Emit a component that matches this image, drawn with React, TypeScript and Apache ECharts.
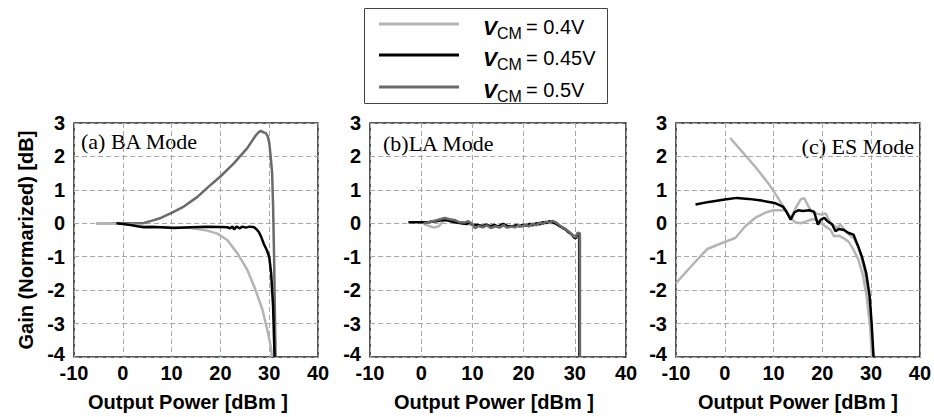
import React, { useEffect, useRef } from "react";
import * as echarts from "echarts";

// ---------- data ----------
const seriesNames = ["VCM = 0.4V", "VCM = 0.45V", "VCM = 0.5V"];
const legendValues = ["= 0.4V", "= 0.45V", "= 0.5V"];
const xTicks = [-10, 0, 10, 20, 30, 40];
const yTicks = [-4, -3, -2, -1, 0, 1, 2, 3];
const panelTitles = ["(a) BA Mode", "(b)LA Mode", "(c) ES Mode"];

// (a) BA mode
const baV04: number[][] = [
  [-5.5, 0], [-3, 0], [0, -0.02], [2, -0.04], [4.3, -0.07], [7, -0.1], [10.5, -0.12], [13.9, -0.14],
  [17.3, -0.22], [19.4, -0.31], [21.4, -0.5], [23.5, -0.9], [25.5, -1.39], [27.2, -1.99], [28.6, -2.58],
  [29.6, -3.18], [30.3, -3.68], [30.6, -4],
];
const baV045: number[][] = [
  [-1.3, 0], [0, -0.02], [1.6, -0.05], [3, -0.09], [4.3, -0.12], [6, -0.11], [7.8, -0.12], [10.5, -0.14],
  [13.9, -0.12], [17.3, -0.1], [20, -0.11], [21.4, -0.12], [22, -0.15], [22.5, -0.1], [22.8, -0.18],
  [23.3, -0.1], [24, -0.15], [24.5, -0.1], [25.2, -0.13], [26, -0.1], [26.9, -0.12], [27.4, -0.18],
  [27.9, -0.27], [28.4, -0.42], [28.9, -0.62], [29.5, -0.8], [30, -1.0], [30.4, -1.5], [30.8, -2.5], [31.1, -4],
];
const baV05: number[][] = [
  [-5.5, 0], [-3, 0], [-1, 0], [1, 0], [3, 0], [4.3, 0.01], [6, 0.08], [7.8, 0.16], [10, 0.31], [12.5, 0.5],
  [15.3, 0.79], [17.3, 1.06], [20, 1.4], [22.8, 1.8], [25.5, 2.25], [27.2, 2.62], [27.8, 2.72], [28.3, 2.77],
  [28.8, 2.72], [29.3, 2.7], [29.7, 2.6], [30, 2.42], [30.3, 2.0], [30.6, 1.5], [30.8, 0.5], [31, -1],
  [31.2, -3], [31.3, -4],
];

// (b) LA mode
const laV04: number[][] = [
  [0.5, -0.02], [1.5, -0.08], [2.6, -0.13], [3.5, -0.08], [4.5, 0.1], [5.5, 0.07], [7, 0.03], [8.5, 0],
  [10, -0.05], [12, -0.08], [15, -0.08], [18, -0.08], [21, -0.03], [24, 0.02], [26, 0], [28, -0.18],
  [29.5, -0.35], [30.3, -0.4], [30.8, -0.3], [30.9, -4],
];
const laV045: number[][] = [
  [-2.5, 0.03], [-1, 0.03], [0.3, 0.03], [1.5, 0.04], [2.9, 0.06], [4, 0.09], [4.9, 0.1], [6, 0.05],
  [6.8, 0.02], [7.8, 0], [8.8, -0.02], [9.5, 0.02], [10, -0.04], [11, -0.05], [12, -0.08], [12.8, -0.04],
  [13.5, -0.09], [14.3, -0.05], [15, -0.1], [16, -0.02], [16.8, -0.08], [17.8, -0.1], [18.5, -0.06],
  [19.2, -0.09], [19.8, -0.05], [20.6, -0.07], [21.2, -0.02], [21.7, -0.06], [22.5, 0], [23.2, -0.03],
  [23.7, 0.03], [24.5, 0.01], [25, 0.06], [25.6, 0.03], [26.2, 0], [27, -0.08], [27.5, -0.12],
  [28.2, -0.18], [28.8, -0.27], [29.4, -0.33], [29.8, -0.42], [30.2, -0.45], [30.5, -0.3], [30.9, -0.35],
  [30.9, -4],
];
const laV05: number[][] = [
  [0.5, 0], [1.5, 0.03], [3, 0.09], [4.6, 0.16], [5.5, 0.12], [6.5, 0.1], [7.5, 0.03], [8.5, 0.02],
  [9.2, 0.06], [10, -0.02], [10.5, -0.15], [11.2, -0.08], [12, -0.12], [12.8, -0.06], [13.6, -0.14],
  [14.5, -0.09], [15.3, -0.13], [16.1, -0.05], [16.8, -0.13], [17.6, -0.1], [18.3, -0.12], [19, -0.07],
  [19.6, -0.1], [20.4, -0.04], [21, -0.09], [21.8, -0.02], [22.5, -0.06], [23.1, 0.02], [23.8, -0.02],
  [24.4, 0.05], [25, 0.02], [25.7, 0.07], [26.4, 0.02], [27, -0.06], [27.7, -0.13], [28.4, -0.2],
  [29, -0.27], [29.6, -0.37], [30.1, -0.42], [30.6, -0.28], [31, -0.3], [31, -4],
];

// (c) ES mode
const esV04Low: number[][] = [
  [-10, -1.79], [-6.6, -1.24], [-3.6, -0.77], [-0.55, -0.59], [2.15, -0.44], [4.2, -0.09], [6.2, 0.16],
  [8.2, 0.31], [9.9, 0.39], [12.3, 0.39], [13.3, 0.2], [14.4, 0.03], [15.6, 0], [16.6, 0.05], [17.7, 0.11],
  [18.7, 0.11], [19.7, 0], [20.7, -0.1], [21.7, -0.2], [22.4, -0.39], [23.4, -0.37], [24.4, -0.45],
  [25.4, -0.55], [26.4, -0.79], [27.4, -1.09], [28.3, -1.55], [29.1, -2.2], [29.8, -3.1], [30.2, -4],
];
const esV04High: number[][] = [
  [1.1, 2.55], [3.5, 2.15], [6.2, 1.7], [8.9, 1.2], [10.9, 0.76], [12.6, 0.36], [13.6, 0.16], [14.5, 0.45],
  [15.6, 0.72], [16.3, 0.75], [17, 0.55], [17.7, 0.36], [18.5, 0.3], [19.7, 0.26], [20.7, 0.29], [21.7, 0],
  [23.1, -0.14], [23.7, -0.04], [25.1, -0.29], [26.4, -0.44], [27.4, -0.69], [28.5, -1.29], [29.5, -2.18],
  [30.1, -3.38], [30.5, -4],
];
const esV045: number[][] = [
  [-6, 0.56], [-3.25, 0.64], [0, 0.71], [2.5, 0.76], [4.85, 0.73], [7.5, 0.68], [10.2, 0.61], [11.9, 0.5],
  [12.6, 0.36], [13.5, 0.11], [14.3, 0.33], [15.1, 0.39], [16, 0.37], [17.3, 0.39], [18.3, 0.35],
  [19.1, -0.04], [19.7, 0.11], [20.4, 0.16], [21, 0.07], [22, -0.03], [22.7, -0.24], [23.4, -0.17],
  [24.4, -0.2], [25.4, -0.29], [26.4, -0.34], [27.2, -0.64], [28.1, -0.99], [29, -1.49], [29.7, -2.18],
  [30.1, -2.98], [30.5, -4],
];

// ---------- styles ----------
const C04 = "#b4b4b4";
const C045 = "#000000";
const C05 = "#6a6a6a";
const colors = [C04, C045, C05];
const SANS = 'Arial, "Liberation Sans", Helvetica, sans-serif';
const SERIF = '"Times New Roman", "Liberation Serif", serif';

const grids = [
  { left: 74, top: 123, width: 244, height: 234 },
  { left: 370, top: 123, width: 256, height: 234 },
  { left: 676, top: 123, width: 247, height: 234 },
];

function makeOption() {
  const xAxis = grids.map((_, i) => ({
    type: "value",
    gridIndex: i,
    min: xTicks[0],
    max: xTicks[xTicks.length - 1],
    interval: 10,
    name: "Output Power [dBm ]",
    nameLocation: "middle",
    nameGap: 35,
    nameTextStyle: {
      fontFamily: SANS,
      fontWeight: "bold",
      fontSize: 20,
      color: "#000",
      padding: i === 0 ? [0, 16, 0, 0] : i === 1 ? [0, 8, 0, 0] : 0,
    },
    axisLine: { show: false },
    axisTick: { show: false },
    axisLabel: { fontFamily: SANS, fontWeight: "bold", fontSize: 20, lineHeight: 14, color: "#000", margin: 9 },
    splitLine: { show: true, lineStyle: { type: [5, 3], color: "#a8a8a8", width: 1 } },
  }));
  const yAxis = grids.map((_, i) => ({
    type: "value",
    gridIndex: i,
    min: yTicks[0],
    max: yTicks[yTicks.length - 1],
    interval: 1,
    name: i === 0 ? "Gain (Normarized) [dB]" : "",
    nameLocation: "middle",
    nameGap: 38,
    nameTextStyle: { fontFamily: SANS, fontWeight: "bold", fontSize: 20, color: "#000" },
    axisLine: { show: false },
    axisTick: { show: false },
    axisLabel: {
      fontFamily: SANS, fontWeight: "bold", fontSize: 20, lineHeight: 14, color: "#000", margin: 9,
      formatter: (v: number) => (v === yTicks[0] ? `{lo|${v}}` : `${v}`),
      rich: {
        lo: { fontFamily: SANS, fontWeight: "bold", fontSize: 20, lineHeight: 14, color: "#000", padding: [0, 0, 7, 0] },
      },
    },
    splitLine: { show: true, lineStyle: { type: [5, 3], color: "#a8a8a8", width: 1 } },
  }));

  const mk = (name: string, data: number[][], color: string, gi: number) => ({
    type: "line",
    name,
    data,
    xAxisIndex: gi,
    yAxisIndex: gi,
    symbol: "none",
    showSymbol: false,
    smooth: false,
    lineStyle: { color, width: 2.5 },
    itemStyle: { color },
    emphasis: { disabled: true },
  });

  const series = [
    mk(seriesNames[2], baV05, C05, 0),
    mk(seriesNames[0], baV04, C04, 0),
    mk(seriesNames[1], baV045, C045, 0),
    mk(seriesNames[0], laV04, C04, 1),
    mk(seriesNames[1], laV045, C045, 1),
    mk(seriesNames[2], laV05, C05, 1),
    mk(seriesNames[0], esV04Low, C04, 2),
    mk(seriesNames[0], esV04High, C04, 2),
    mk(seriesNames[1], esV045, C045, 2),
  ];

  const legendRows = [24, 55, 87];
  const legendGraphics: any[] = [
    {
      type: "rect",
      shape: { x: 364.5, y: 8.5, width: 243, height: 95 },
      style: { fill: "#fff", stroke: "#444", lineWidth: 1 },
    },
  ];
  legendRows.forEach((y, i) => {
    legendGraphics.push({
      type: "line",
      shape: { x1: 379, y1: y, x2: 459, y2: y },
      style: { stroke: colors[i], lineWidth: 3 },
    });
    legendGraphics.push({
      type: "text",
      style: {
        text: "V", x: 483, y: y + 3, font: `italic bold 21px ${SANS}`, fill: "#000",
        align: "left", verticalAlign: "middle",
      },
    });
    legendGraphics.push({
      type: "text",
      style: {
        text: "CM", x: 497, y: y + 9, font: `16px ${SANS}`, fill: "#000",
        align: "left", verticalAlign: "middle",
      },
    });
    legendGraphics.push({
      type: "text",
      style: {
        text: legendValues[i], x: 526, y: y + 3, font: `20px ${SANS}`, fill: "#000",
        align: "left", verticalAlign: "middle",
      },
    });
  });

  const titleGraphics = [
    { type: "text", style: { text: panelTitles[0], x: 81, y: 141, font: `22px ${SERIF}`, fill: "#000", align: "left", verticalAlign: "middle" } },
    { type: "text", style: { text: panelTitles[1], x: 383, y: 143, font: `22px ${SERIF}`, fill: "#000", align: "left", verticalAlign: "middle" } },
    { type: "text", style: { text: panelTitles[2], x: 914, y: 146, font: `22px ${SERIF}`, fill: "#000", align: "right", verticalAlign: "middle" } },
  ];

  return {
    animation: false,
    backgroundColor: "#ffffff",
    grid: grids.map((g) => ({ ...g, show: true, borderColor: "#222", borderWidth: 1.5, backgroundColor: "transparent" })),
    xAxis,
    yAxis,
    series,
    graphic: [...legendGraphics, ...titleGraphics],
  };
}

export default function App() {
  const ref = useRef<HTMLDivElement>(null);
  useEffect(() => {
    if (!ref.current) return;
    const chart = echarts.init(ref.current, undefined, { renderer: "svg" });
    chart.setOption(makeOption() as any);
    return () => chart.dispose();
  }, []);
  return (
    <div
      ref={ref}
      style={{ position: "fixed", left: 0, top: 0, width: 934, height: 417, background: "#fff" }}
    />
  );
}
